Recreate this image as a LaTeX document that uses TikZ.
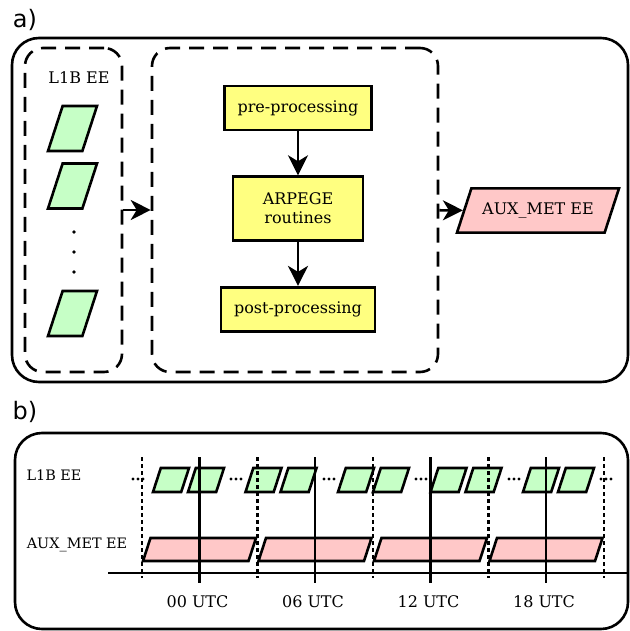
\documentclass[tikz,border=0pt]{standalone}
\usepackage{fontspec}
\setmainfont{DejaVu Serif}
\newfontfamily\panelfont{DejaVu Sans}
\usetikzlibrary{arrows.meta, positioning, shapes.geometric}
\usepackage{xcolor}
\definecolor{procyellow}{RGB}{255,255,128}
\definecolor{eegreen}{RGB}{198,255,198}
\definecolor{eepink}{RGB}{255,200,200}

\begin{document}
\begin{tikzpicture}[
x=0.5pt, y=-0.5pt,
font=\fontsize{8}{9.5}\selectfont,
node distance=22pt,
panel/.style={font=\panelfont\fontsize{12}{14}\selectfont},
rowlabel/.style={font=\fontsize{7.2}{9}\selectfont},
frame/.style={draw, line width=1.3pt, rounded corners=13.5pt, inner sep=0pt},
group/.style={draw, line width=1.3pt, dash pattern=on 7.5pt off 4.5pt, rounded corners=9pt, inner sep=0pt},
proc/.style={draw, line width=1.3pt, fill=procyellow, rectangle, minimum height=22pt, inner xsep=6.5pt, align=center},
file/.style={draw, line width=1.3pt, trapezium, trapezium left angle=72, trapezium right angle=108, trapezium stretches body=true, inner xsep=1pt},
l1b/.style={file, fill=eegreen},
auxmet/.style={file, fill=eepink},
arrow/.style={-{Stealth[length=10pt, width=10pt, inset=3pt]}, line width=1.3pt},
tick/.style={line width=1.2pt},
slot/.style={line width=1.4pt, dash pattern=on 2pt off 1.5pt}
]
\useasboundingbox (0,0) rectangle (629,631);

\node[panel] (alabel) at (25,20) {a)};
\node[frame, minimum width=308pt, minimum height=172pt] (panela) at (320,210) {};
\node[group, minimum width=48.5pt, minimum height=162pt] (l1bgroup) at (73.5,210) {};
\node[group, minimum width=143pt, minimum height=162pt] (arpgroup) at (295,210) {};

\node (l1btitle) at (79,78) {L1B EE};
\node[l1b, minimum width=24.5pt, inner ysep=11.25pt] (l1b1) at (72.5,128.5) {};
\node[l1b, minimum width=24.5pt, inner ysep=11.25pt] (l1b2) at (72.5,186) {};
\node[l1b, minimum width=24.5pt, inner ysep=11.25pt] (l1b3) at (72.5,313.5) {};
\foreach \y in {232,252,272}
  \fill (74,\y) circle[radius=0.9pt];

\node[proc] (pre) at (298,108) {pre-processing};
\node[proc, below=of pre, minimum width=65pt, minimum height=32pt] (arpege) {ARPEGE\\routines};
\node[proc, below=of arpege] (post) {post-processing};

\node[auxmet, minimum width=81pt, inner ysep=7.2pt] (auxmet) at (538,210.5) {AUX\_MET EE};

\draw[arrow] (l1bgroup) -- (arpgroup);
\draw[arrow] (pre) -- (arpege);
\draw[arrow] (arpege) -- (post);
\draw[arrow] (arpgroup) -- (auxmet);

\node[panel] (blabel) at (25,412) {b)};
\node[frame, minimum width=306.5pt, minimum height=98pt] (panelb) at (321.5,531) {};
\node[rowlabel] (l1brow) at (54,475) {L1B EE};
\node[rowlabel] (auxrow) at (77,545) {AUX\_MET EE};

\foreach \k in {0,...,4} {
  \node[l1b, minimum width=18pt, inner ysep=6pt] (obs\k a) at (171+92.5*\k,480) {};
  \node[l1b, minimum width=18pt, inner ysep=6pt] (obs\k b) at (206+92.5*\k,480) {};
}
\foreach \k in {0,...,3}
  \node[auxmet, minimum width=56.5pt, inner ysep=5.75pt] (aux\k) at (199.5+115.5*\k,549.5) {};
\foreach \x in {138,236,329,421,514,606}
  \foreach \d in {-5,0,5}
    \fill (\x+\d,479) circle[radius=0.8pt];

\draw[tick] (108,573) -- (627,573);
\foreach \k in {0,...,4}
  \draw[slot] (142+115.5*\k,457) -- (142+115.5*\k,578);
\foreach \k/\t in {0/00,1/06,2/12,3/18} {
  \draw[tick] (199.5+115.5*\k,457) -- (199.5+115.5*\k,583);
  \node (utc\k) at (197.5+115.5*\k,602) {\t\ UTC};
}

\end{tikzpicture}
\end{document}
